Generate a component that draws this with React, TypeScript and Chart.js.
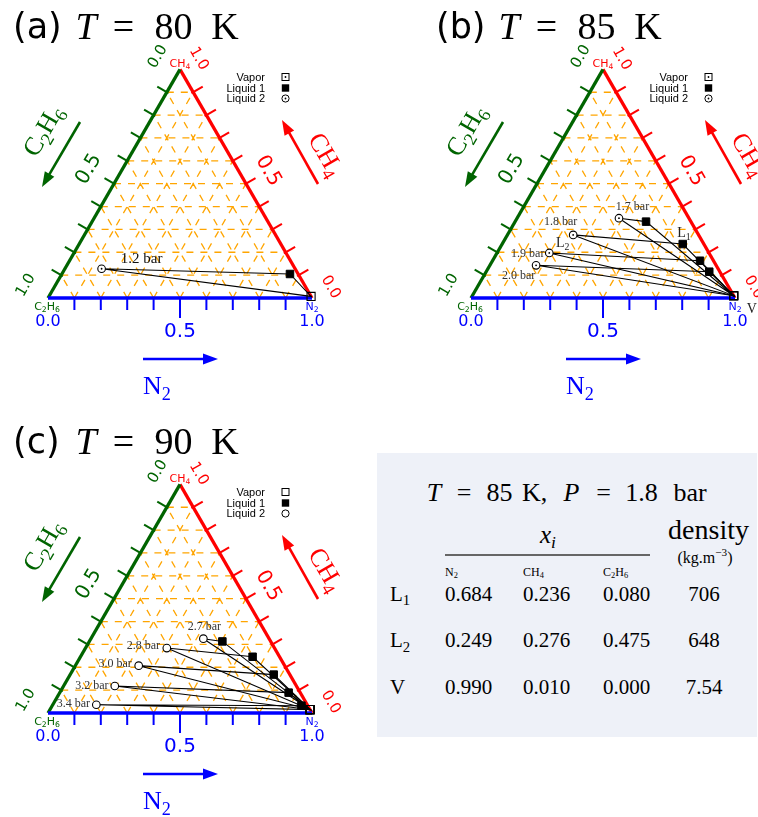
import React, { useEffect, useRef } from "react";
import { Chart, registerables } from "chart.js";
Chart.register(...registerables);

// ---------------- data ----------------
const GRID_LEVELS = [0.1, 0.2, 0.3, 0.4, 0.5, 0.6, 0.7, 0.8, 0.9];
const EDGE_TICK_LABELS = ["0.0", "0.5", "1.0"];
const COMPONENTS = ["N2", "CH4", "C2H6"];
const LEGEND_ENTRIES = ["Vapor", "Liquid 1", "Liquid 2"];

const P_80K = ["1.2 bar"];
const L1_N2_80K = [0.864];
const L1_CH4_80K = [0.105];
const L2_N2_80K = [0.139];
const L2_CH4_80K = [0.128];
const V_N2_80K = [0.993];
const V_CH4_80K = [0.007];

const P_85K = ["1.7 bar", "1.8 bar", "1.9 bar", "2.0 bar"];
const L1_N2_85K = [0.496, 0.684, 0.786, 0.845];
const L1_CH4_85K = [0.334, 0.236, 0.163, 0.115];
const L2_N2_85K = [0.386, 0.249, 0.198, 0.175];
const L2_CH4_85K = [0.349, 0.276, 0.197, 0.143];
const V_N2_85K = [0.99, 0.99, 0.99, 0.99];
const V_CH4_85K = [0.01, 0.01, 0.01, 0.01];

const P_90K = ["2.7 bar", "2.8 bar", "3.0 bar", "3.2 bar", "3.4 bar"];
const L1_N2_90K = [0.504, 0.652, 0.771, 0.867, 0.944];
const L1_CH4_90K = [0.313, 0.246, 0.168, 0.089, 0.032];
const L2_N2_90K = [0.426, 0.308, 0.24, 0.194, 0.165];
const L2_CH4_90K = [0.325, 0.284, 0.207, 0.118, 0.036];
const V_N2_90K = [0.985, 0.985, 0.985, 0.985, 0.985];
const V_CH4_90K = [0.015, 0.015, 0.015, 0.015, 0.015];

const TABLE_ROWS = ["L1", "L2", "V"];
const TABLE_N2 = ["0.684", "0.249", "0.990"];
const TABLE_CH4 = ["0.236", "0.276", "0.010"];
const TABLE_C2H6 = ["0.080", "0.475", "0.000"];
const TABLE_DENSITY = ["706", "648", "7.54"];

// ---------------- style / layout ----------------
const SANS = '"DejaVu Sans", sans-serif';
const LSANS = '"Liberation Sans", "DejaVu Sans", sans-serif';
const SERIF = '"Liberation Serif", "DejaVu Serif", serif';
const GREEN = "#006400";
const RED = "#FF0000";
const BLUE = "#0000FF";
const ORANGE = "#FFA500";
const H3 = Math.sqrt(3) / 2;
const UNIT = 264; // px per composition unit
const OX = 48; // triangle origin inside each canvas
const OY = 298;

type Extra = { t: string; dx: number; dy: number };
type Panel = {
  id: string;
  letter: string;
  temp: string;
  left: number;
  top: number;
  width: number;
  height: number;
  p: string[];
  l1n: number[];
  l1c: number[];
  l2n: number[];
  l2c: number[];
  vn: number[];
  vc: number[];
  dotted: boolean;
  labelSize: number;
  labelColor: string;
  labelOffsets: [number, number][];
  extras: Extra[];
};

const PANELS: Panel[] = [
  {
    id: "a", letter: "(a)", temp: "80", left: 0, top: 0, width: 379, height: 408,
    p: P_80K, l1n: L1_N2_80K, l1c: L1_CH4_80K, l2n: L2_N2_80K, l2c: L2_CH4_80K, vn: V_N2_80K, vc: V_CH4_80K,
    dotted: true, labelSize: 15, labelColor: "#111",
    labelOffsets: [[40, -11]], extras: [],
  },
  {
    id: "b", letter: "(b)", temp: "85", left: 423, top: 0, width: 335, height: 408,
    p: P_85K, l1n: L1_N2_85K, l1c: L1_CH4_85K, l2n: L2_N2_85K, l2c: L2_CH4_85K, vn: V_N2_85K, vc: V_CH4_85K,
    dotted: true, labelSize: 12, labelColor: "#333",
    labelOffsets: [[13.5, -12.6], [-12.6, -14.6], [-21.5, -0.7], [-17.5, 9.4]],
    extras: [
      { t: "L_1", dx: 213, dy: -65.7 },
      { t: "L_2", dx: 91.7, dy: -56.3 },
      { t: "V", dx: 280.7, dy: 10 },
    ],
  },
  {
    id: "c", letter: "(c)", temp: "90", left: 0, top: 415, width: 376, height: 402,
    p: P_90K, l1n: L1_N2_90K, l1c: L1_CH4_90K, l2n: L2_N2_90K, l2c: L2_CH4_90K, vn: V_N2_90K, vc: V_CH4_90K,
    dotted: false, labelSize: 12, labelColor: "#333",
    labelOffsets: [[1, -13], [-23.5, -3.3], [-23.5, -3], [-23, -1.3], [-23, -2]],
    extras: [],
  },
];

const toXY = (n: number, c: number) => ({ x: n + c / 2, y: c * H3 });
const chemMarkup = (s: string) => s.replace(/(\d)/g, "_$1");

function drawRich(
  ctx: CanvasRenderingContext2D,
  text: string,
  x: number,
  y: number,
  o: { size: number; color: string; fam: string; italic?: boolean; align?: "left" | "center" | "right"; rot?: number; vcenter?: boolean }
) {
  const segs: { s: string; sub: boolean }[] = [];
  for (let i = 0; i < text.length; i++) {
    if (text[i] === "_" && i + 1 < text.length) {
      segs.push({ s: text[i + 1], sub: true });
      i++;
    } else if (segs.length && !segs[segs.length - 1].sub) {
      segs[segs.length - 1].s += text[i];
    } else {
      segs.push({ s: text[i], sub: false });
    }
  }
  const font = (sz: number) => `${o.italic ? "italic " : ""}${sz}px ${o.fam}`;
  const subSize = o.size * 0.7;
  const widths = segs.map((sg) => {
    ctx.font = font(sg.sub ? subSize : o.size);
    return ctx.measureText(sg.s).width;
  });
  const total = widths.reduce((a, b) => a + b, 0);
  ctx.save();
  ctx.translate(x, y);
  ctx.rotate(((o.rot || 0) * Math.PI) / 180);
  let cx = o.align === "center" ? -total / 2 : o.align === "right" ? -total : 0;
  const base = o.vcenter ? o.size * 0.36 : 0;
  ctx.textBaseline = "alphabetic";
  ctx.textAlign = "left";
  ctx.fillStyle = o.color;
  segs.forEach((sg, i) => {
    ctx.font = font(sg.sub ? subSize : o.size);
    ctx.fillText(sg.s, cx, base + (sg.sub ? o.size * 0.22 : 0));
    cx += widths[i];
  });
  ctx.restore();
}

function arrow(ctx: CanvasRenderingContext2D, x1: number, y1: number, x2: number, y2: number, color: string) {
  const a = Math.atan2(y2 - y1, x2 - x1);
  const hl = 15;
  const hw = 5.5;
  ctx.save();
  ctx.strokeStyle = color;
  ctx.fillStyle = color;
  ctx.lineWidth = 2.6;
  ctx.beginPath();
  ctx.moveTo(x1, y1);
  ctx.lineTo(x2 - hl * 0.7 * Math.cos(a), y2 - hl * 0.7 * Math.sin(a));
  ctx.stroke();
  ctx.beginPath();
  ctx.moveTo(x2, y2);
  const bx = x2 - hl * Math.cos(a);
  const by = y2 - hl * Math.sin(a);
  ctx.lineTo(bx + hw * Math.sin(a), by - hw * Math.cos(a));
  ctx.lineTo(bx - hw * Math.sin(a), by + hw * Math.cos(a));
  ctx.closePath();
  ctx.fill();
  ctx.restore();
}

function buildChart(canvas: HTMLCanvasElement, pn: Panel) {
  const W = pn.width;
  const H = pn.height;
  const NaNpt = { x: NaN, y: NaN };

  const grid: { x: number; y: number }[] = [];
  GRID_LEVELS.forEach((v) => {
    grid.push(toXY(0, v), toXY(1 - v, v), NaNpt);
    grid.push(toXY(v, 0), toXY(v, 1 - v), NaNpt);
    grid.push(toXY(1 - v, 0), toXY(0, 1 - v), NaNpt);
  });

  const l1 = pn.l1n.map((n, i) => toXY(n, pn.l1c[i]));
  const l2 = pn.l2n.map((n, i) => toXY(n, pn.l2c[i]));
  const vap = pn.vn.map((n, i) => toXY(n, pn.vc[i]));

  const datasets: any[] = [
    { data: grid, showLine: true, borderColor: ORANGE, borderWidth: 1.3, borderDash: [7, 7], pointRadius: 0, spanGaps: false, order: 20 },
    { data: [toXY(0, 0), toXY(1, 0)], showLine: true, borderColor: BLUE, borderWidth: 3.3, pointRadius: 0, order: 18 },
    { data: [toXY(0, 0), toXY(0, 1)], showLine: true, borderColor: GREEN, borderWidth: 3.3, pointRadius: 0, order: 18 },
    { data: [toXY(1, 0), toXY(0, 1)], showLine: true, borderColor: RED, borderWidth: 3.3, pointRadius: 0, order: 18 },
  ];
  pn.p.forEach((_, i) => {
    datasets.push({
      data: [l2[i], l1[i], vap[i], l2[i]], showLine: true, borderColor: "#000", borderWidth: 1.1, pointRadius: 0, order: 10,
    });
  });
  datasets.push({ data: vap, pointStyle: "rect", pointRadius: 5.7, backgroundColor: "rgba(255,255,255,0)", borderColor: "#000", borderWidth: 1.1, order: 4 });
  datasets.push({ data: l1, pointStyle: "rect", pointRadius: 5.3, backgroundColor: "#000", borderColor: "#000", borderWidth: 1, order: 3 });
  datasets.push({ data: l2, pointStyle: "circle", pointRadius: 3.8, backgroundColor: "#fff", borderColor: "#000", borderWidth: 1.1, order: 2 });
  if (pn.dotted) {
    datasets.push({ data: [...l2, ...vap], pointStyle: "circle", pointRadius: 0.9, backgroundColor: "#000", borderColor: "#000", borderWidth: 0, order: 1 });
  }

  const decor = {
    id: "ternaryDecor" + pn.id,
    beforeDatasetsDraw(chart: any) {
      const ctx: CanvasRenderingContext2D = chart.ctx;
      const sx = chart.scales.x;
      const sy = chart.scales.y;
      const P = (n: number, c: number) => {
        const q = toXY(n, c);
        return [sx.getPixelForValue(q.x), sy.getPixelForValue(q.y)];
      };
      ctx.save();
      ctx.lineWidth = 2;
      ctx.strokeStyle = BLUE;
      GRID_LEVELS.forEach((v) => {
        const [x, y] = P(v, 0);
        const len = Math.abs(v - 0.5) < 1e-9 ? 20 : 12;
        ctx.beginPath();
        ctx.moveTo(x, y);
        ctx.lineTo(x, y + len);
        ctx.stroke();
      });
      ctx.strokeStyle = GREEN;
      GRID_LEVELS.forEach((v) => {
        const [x, y] = P(0, 1 - v);
        const nx = -H3, ny = -0.5;
        ctx.beginPath();
        ctx.moveTo(x - nx * 2, y - ny * 2);
        ctx.lineTo(x + nx * 11, y + ny * 11);
        ctx.stroke();
      });
      ctx.strokeStyle = RED;
      GRID_LEVELS.forEach((v) => {
        const [x, y] = P(1 - v, v);
        const nx = H3, ny = -0.5;
        ctx.beginPath();
        ctx.moveTo(x - nx * 2, y - ny * 2);
        ctx.lineTo(x + nx * 11, y + ny * 11);
        ctx.stroke();
      });
      ctx.restore();
    },
    afterDatasetsDraw(chart: any) {
      const ctx: CanvasRenderingContext2D = chart.ctx;
      const sx = chart.scales.x;
      const sy = chart.scales.y;
      const P = (n: number, c: number) => {
        const q = toXY(n, c);
        return [sx.getPixelForValue(q.x), sy.getPixelForValue(q.y)];
      };
      const [ox, oy] = P(0, 0);

      // title
      drawRich(ctx, pn.letter, ox - 35, oy - 260, { size: 35, color: "#000", fam: SANS });
      drawRich(ctx, "T", ox + 38, oy - 259, { size: 38, color: "#000", fam: SERIF, italic: true, align: "center" });
      drawRich(ctx, "=", ox + 75.5, oy - 259, { size: 38, color: "#000", fam: SERIF, align: "center" });
      drawRich(ctx, pn.temp, ox + 125.5, oy - 259, { size: 38, color: "#000", fam: SERIF, align: "center" });
      drawRich(ctx, "K", ox + 177, oy - 259, { size: 38, color: "#000", fam: SERIF, align: "center" });

      // vertex labels
      const [cx, cy] = P(0, 1);
      const [nx2, ny2] = P(1, 0);
      drawRich(ctx, chemMarkup(COMPONENTS[1]), cx, cy - 2.5, { size: 11, color: RED, fam: SANS, align: "center" });
      drawRich(ctx, chemMarkup(COMPONENTS[2]), ox - 1, oy + 12, { size: 11, color: GREEN, fam: SANS, align: "center" });
      drawRich(ctx, chemMarkup(COMPONENTS[0]), nx2, ny2 + 12, { size: 11, color: BLUE, fam: SANS, align: "center" });

      // tick labels
      const fracs = [0, 0.5, 1];
      fracs.forEach((f, i) => {
        const big = i === 1;
        const sz = big ? 20 : 15;
        const [gx, gy] = P(0, 1 - f);
        const dg = big ? 31 : 27;
        drawRich(ctx, EDGE_TICK_LABELS[i], gx - H3 * dg, gy - 0.5 * dg, { size: sz, color: GREEN, fam: SANS, align: "center", rot: -60, vcenter: true });
        const [rx, ry] = P(1 - f, f);
        const dr = big ? 27.5 : 23;
        drawRich(ctx, EDGE_TICK_LABELS[i], rx + H3 * dr, ry - 0.5 * dr, { size: sz, color: RED, fam: SANS, align: "center", rot: 60, vcenter: true });
        const [bx, by] = P(f, 0);
        drawRich(ctx, EDGE_TICK_LABELS[i], bx, by + (big ? 31.5 : 22), { size: big ? 20 : 16, color: BLUE, fam: SANS, align: "center", vcenter: true });
      });

      // axis titles and arrows
      drawRich(ctx, chemMarkup(COMPONENTS[2]), ox - 6, oy - 168, { size: 26, color: GREEN, fam: SERIF, align: "center", rot: -60, vcenter: true });
      arrow(ctx, ox + 32, oy - 176, ox - 6, oy - 111, GREEN);
      drawRich(ctx, chemMarkup(COMPONENTS[1]), ox + 279, oy - 144, { size: 26, color: RED, fam: SERIF, align: "center", rot: 60, vcenter: true });
      arrow(ctx, ox + 270, oy - 114, ox + 234, oy - 178, RED);
      drawRich(ctx, chemMarkup(COMPONENTS[0]), ox + 109, oy + 87, { size: 26, color: BLUE, fam: SERIF, align: "center", vcenter: true });
      arrow(ctx, ox + 95, oy + 61, ox + 170, oy + 61, BLUE);

      // legend
      const ly = [-221, -210, -199.5];
      LEGEND_ENTRIES.forEach((t, i) => {
        drawRich(ctx, t, ox + 217, oy + ly[i], { size: 11, color: "#000", fam: LSANS, align: "right", vcenter: true });
      });
      const mx = ox + 237.5;
      ctx.save();
      ctx.strokeStyle = "#000";
      ctx.fillStyle = "#000";
      ctx.lineWidth = 1;
      ctx.strokeRect(mx - 3.5, oy + ly[0] - 3.5, 7, 7);
      ctx.fillRect(mx - 3.7, oy + ly[1] - 3.7, 7.4, 7.4);
      ctx.beginPath();
      ctx.arc(mx, oy + ly[2], 3.6, 0, Math.PI * 2);
      ctx.stroke();
      if (pn.dotted) {
        ctx.beginPath();
        ctx.arc(mx, oy + ly[0], 0.9, 0, Math.PI * 2);
        ctx.arc(mx, oy + ly[2], 0.9, 0, Math.PI * 2);
        ctx.fill();
      }
      ctx.restore();

      // pressure labels
      pn.p.forEach((lab, i) => {
        const [px, py] = P(pn.l2n[i], pn.l2c[i]);
        const off = pn.labelOffsets[i];
        drawRich(ctx, lab, px + off[0], py + off[1], { size: pn.labelSize, color: pn.labelColor, fam: SERIF, align: "center", vcenter: true });
      });

      // extra phase labels
      pn.extras.forEach((e) => {
        drawRich(ctx, e.t, ox + e.dx, oy + e.dy, { size: 14, color: "#222", fam: SERIF, align: "center", vcenter: true });
      });
    },
  };

  return new Chart(canvas, {
    type: "scatter",
    data: { datasets },
    options: {
      responsive: false,
      animation: false,
      events: [],
      layout: { padding: 0, autoPadding: false } as any,
      plugins: { legend: { display: false }, tooltip: { enabled: false }, title: { display: false } },
      scales: {
        x: { type: "linear", display: false, min: -OX / UNIT, max: (W - OX) / UNIT },
        y: { type: "linear", display: false, min: (OY - H) / UNIT, max: OY / UNIT },
      },
      elements: { line: { tension: 0 } },
    },
    plugins: [decor],
  });
}

function TernaryPanel({ panel }: { panel: Panel }) {
  const ref = useRef<HTMLCanvasElement>(null);
  useEffect(() => {
    if (!ref.current) return;
    const chart = buildChart(ref.current, panel);
    return () => chart.destroy();
  }, [panel]);
  return (
    <canvas
      ref={ref}
      width={panel.width}
      height={panel.height}
      style={{ position: "absolute", left: panel.left, top: panel.top, width: panel.width, height: panel.height }}
    />
  );
}

// ---------------- table ----------------
const Sub = ({ children }: { children: React.ReactNode }) => (
  <span style={{ fontSize: "0.7em", position: "relative", top: "0.28em" }}>{children}</span>
);
const Sup = ({ children }: { children: React.ReactNode }) => (
  <span style={{ fontSize: "0.7em", position: "relative", top: "-0.55em" }}>{children}</span>
);
function chem(s: string) {
  return s.split(/(\d)/).filter((x) => x !== "").map((part, i) => (/\d/.test(part) ? <Sub key={i}>{part}</Sub> : <span key={i}>{part}</span>));
}
function Txt({ x, y, size, italic = false, center = false, children }: { x: number; y: number; size: number; italic?: boolean; center?: boolean; children: React.ReactNode }) {
  return (
    <span
      style={{
        position: "absolute",
        left: x,
        top: y - 0.8375 * size,
        fontSize: size,
        lineHeight: 1,
        fontFamily: SERIF,
        fontStyle: italic ? "italic" : "normal",
        whiteSpace: "nowrap",
        color: "#000",
        transform: center ? "translateX(-50%)" : undefined,
      }}
    >
      {children}
    </span>
  );
}

function DataTable() {
  const colX = [445, 523, 603];
  const rowY = [601.7, 648, 695];
  const cols = [TABLE_N2, TABLE_CH4, TABLE_C2H6];
  return (
    <div style={{ position: "absolute", left: 0, top: 0, width: 758, height: 817, pointerEvents: "none" }}>
      <div style={{ position: "absolute", left: 377, top: 453, width: 380, height: 284, background: "#EEF1F8" }} />
      <Txt x={434} y={502} size={26} italic center>T</Txt>
      <Txt x={464} y={502} size={26} center>=</Txt>
      <Txt x={499.5} y={502} size={26} center>85</Txt>
      <Txt x={522} y={502} size={26}>K,</Txt>
      <Txt x={571.5} y={502} size={26} italic center>P</Txt>
      <Txt x={603.5} y={502} size={26} center>=</Txt>
      <Txt x={641.5} y={502} size={26} center>1.8</Txt>
      <Txt x={690} y={502} size={26} center>bar</Txt>

      <Txt x={540} y={543} size={25} italic>
        x<Sub>i</Sub>
      </Txt>
      <div style={{ position: "absolute", left: 445, top: 554, width: 205, height: 1.5, background: "#666" }} />
      <Txt x={708.5} y={539} size={28} center>density</Txt>
      <Txt x={705} y={563} size={16} center>
        (kg.m<Sup>−3</Sup>)
      </Txt>

      {COMPONENTS.map((c, i) => (
        <Txt key={c} x={colX[i]} y={576} size={12}>{chem(c)}</Txt>
      ))}
      {TABLE_ROWS.map((r, j) => (
        <React.Fragment key={r}>
          <Txt x={390} y={rowY[j]} size={21}>{chem(r)}</Txt>
          {cols.map((col, i) => (
            <Txt key={i} x={colX[i]} y={rowY[j]} size={21}>{col[j]}</Txt>
          ))}
          <Txt x={704} y={rowY[j]} size={21} center>{TABLE_DENSITY[j]}</Txt>
        </React.Fragment>
      ))}
    </div>
  );
}

export default function App() {
  return (
    <div style={{ position: "absolute", left: 0, top: 0, width: 758, height: 817, overflow: "hidden", background: "#fff" }}>
      {PANELS.map((p) => (
        <TernaryPanel key={p.id} panel={p} />
      ))}
      <DataTable />
    </div>
  );
}
